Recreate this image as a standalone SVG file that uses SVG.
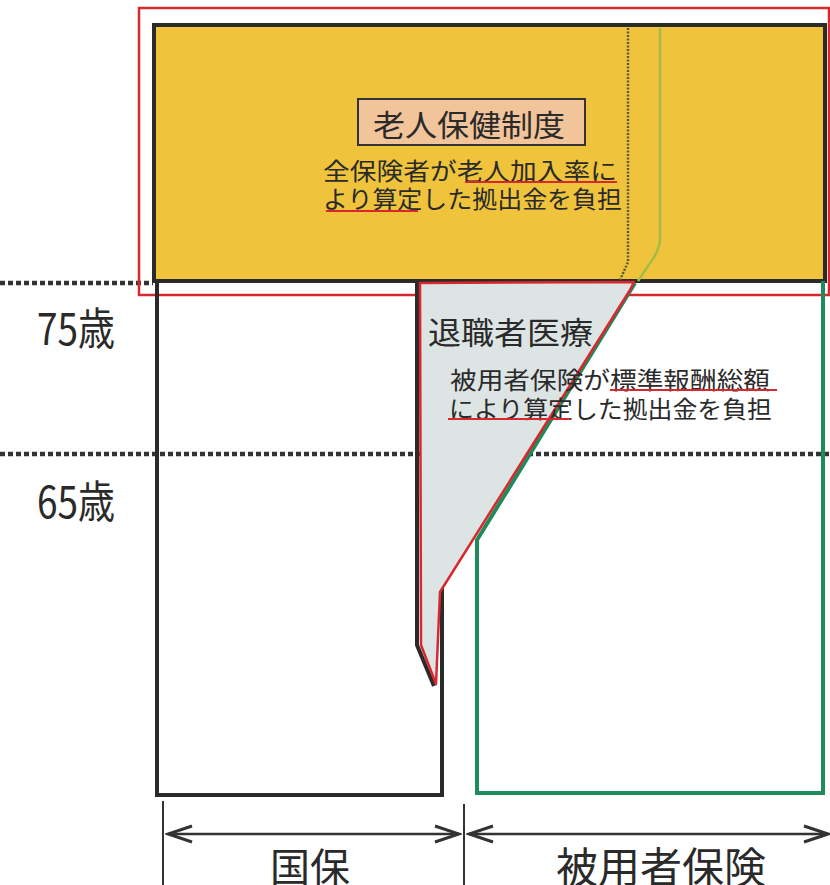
<svg xmlns="http://www.w3.org/2000/svg" width="830" height="885" viewBox="0 0 830 885">
<style>
.jp{font-family:"Noto Sans CJK JP","Noto Sans CJK SC",sans-serif;fill:#2a2a2a}
.dot{stroke:#333;stroke-width:4.5;stroke-dasharray:5 3;fill:none}
.ul{stroke:#d8282e;stroke-width:2;fill:none}
.dim{stroke:#333;stroke-width:2.5;fill:none}
</style>
<defs>
<marker id="ah" markerUnits="userSpaceOnUse" markerWidth="30" markerHeight="20" viewBox="-26 -10 28 20" refX="0" refY="0" orient="auto-start-reverse">
<path d="M-24,-8 L0,0 L-24,8" fill="none" stroke="#333" stroke-width="3"/>
</marker>
</defs>
<rect width="830" height="885" fill="#fff"/>
<g id="guides">
<line class="dot" x1="0" y1="283" x2="153" y2="283"/>
<line class="dot" x1="0" y1="454" x2="830" y2="454"/>
<text class="jp" x="37" y="345" font-size="44" textLength="78" lengthAdjust="spacingAndGlyphs">75歳</text>
<text class="jp" x="37" y="518" font-size="44" textLength="78" lengthAdjust="spacingAndGlyphs">65歳</text>
</g>
<g id="roujin">
<rect x="139" y="8" width="690" height="287" fill="none" stroke="#d8282e" stroke-width="2.5"/>
<rect x="154" y="25" width="671" height="256" fill="#efc43c" stroke="#2a2a2a" stroke-width="4"/>
<path d="M628,28 L628,262 L620,280" fill="none" stroke="#5e5b36" stroke-width="2.5" stroke-dasharray="2 1.5"/>
<path d="M660,28 L660,240 Q659,252 648,266 L638,281" fill="none" stroke="#a6bb45" stroke-width="2.5"/>
<rect x="358" y="99" width="227" height="46" fill="#f2c49a" stroke="#333" stroke-width="2"/>
<text class="jp" x="373" y="136" font-size="30" textLength="192" lengthAdjust="spacingAndGlyphs">老人保健制度</text>
<text class="jp" x="323" y="180" font-size="24" textLength="294" lengthAdjust="spacingAndGlyphs">全保険者が老人加入率に</text>
<text class="jp" x="323" y="208" font-size="24" textLength="299" lengthAdjust="spacingAndGlyphs">より算定した拠出金を負担</text>
<line class="ul" x1="465" y1="182" x2="617" y2="182"/>
<line class="ul" x1="326" y1="211" x2="418" y2="211"/>
</g>
<g id="kokuho">
<path d="M157,281 L157,795 L442,795 L442,587" fill="none" stroke="#2a2a2a" stroke-width="4"/>
<path d="M417,281 L417,645 L434,686" fill="none" stroke="#2a2a2a" stroke-width="4"/>
</g>
<g id="hiyousha">
<path d="M635,283 L477,540 L477,793 L823,793 L823,281" fill="none" stroke="#1f8a5c" stroke-width="4"/>
</g>
<g id="taishoku">
<path d="M420,283 L421,645 L436,684 L440,592 L630,290 L634,282 Z" fill="#dde4e4" stroke="#d8282e" stroke-width="2.5" stroke-linejoin="round"/>
<text class="jp" x="428" y="344" font-size="31" textLength="165" lengthAdjust="spacingAndGlyphs">退職者医療</text>
<text class="jp" x="450" y="389" font-size="24" textLength="320" lengthAdjust="spacingAndGlyphs">被用者保険が標準報酬総額</text>
<text class="jp" x="449" y="418" font-size="24" textLength="323" lengthAdjust="spacingAndGlyphs">により算定した拠出金を負担</text>
<line class="ul" x1="610" y1="390" x2="777" y2="390"/>
<line class="ul" x1="448" y1="419" x2="570" y2="419"/>
</g>
<g id="connectors">
<line x1="163" y1="801" x2="163" y2="885" stroke="#333" stroke-width="2"/>
<line x1="464" y1="804" x2="464" y2="885" stroke="#333" stroke-width="2"/>
<line class="dim" x1="168" y1="834" x2="459" y2="834" marker-start="url(#ah)" marker-end="url(#ah)"/>
<line class="dim" x1="469" y1="834" x2="828" y2="834" marker-start="url(#ah)" marker-end="url(#ah)"/>
</g>
<g id="labels">
<text class="jp" x="310" y="882" font-size="40" text-anchor="middle">国保</text>
<text class="jp" x="556" y="883" font-size="42" textLength="210" lengthAdjust="spacingAndGlyphs">被用者保険</text>
</g>
</svg>
